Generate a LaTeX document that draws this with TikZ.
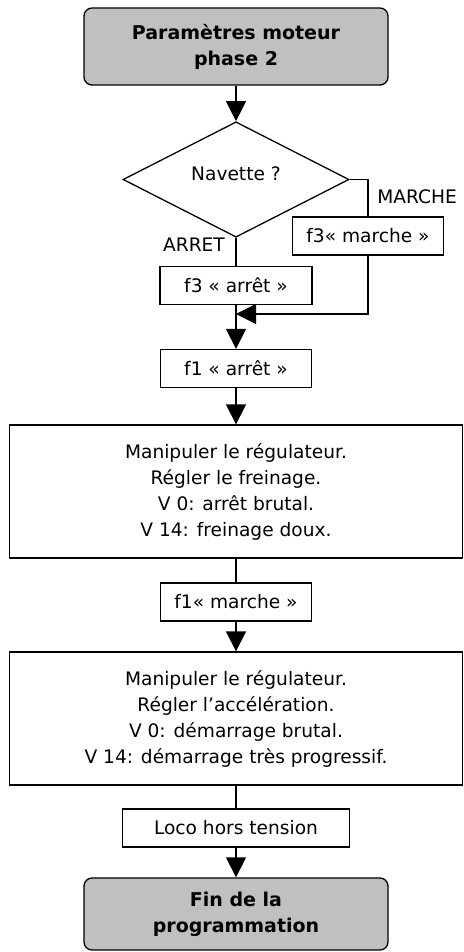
\documentclass[tikz,border=0pt]{standalone}
\usepackage{fontspec}
\setmainfont{DejaVu Sans}
\usepackage{tikz}
\usetikzlibrary{shapes.geometric,arrows.meta}
\definecolor{gris}{RGB}{192,192,192}

\begin{document}
\begin{tikzpicture}[x=1pt,y=-1pt,line width=1.3pt,
    every node/.style={font=\fontsize{18.6}{26}\selectfont,align=center,inner sep=0pt},
    boite/.style={draw,rectangle,minimum height=38pt},
    grande/.style={draw,rectangle,minimum width=453pt,minimum height=133pt},
    terminal/.style={draw,rectangle,rounded corners=8pt,fill=gris,minimum width=304pt,
      font=\bfseries\fontsize{19}{26}\selectfont},
    fleche/.style={-{Triangle[length=20pt,width=20pt]}}]
  \useasboundingbox (0,0) rectangle (463,952);
  % Debut et test navette
  \node[terminal,minimum height=77pt] (debut) at (236,46.5) {Paramètres moteur\\phase 2};
  \node[draw,diamond,minimum width=226pt,minimum height=113pt,text depth=12pt] (navette) at (236,179.5) {Navette ?};
  \node (marche) at (417,197) {MARCHE};
  \node (arret) at (194,245) {ARRET};
  % Branches f3
  \node[boite,minimum width=151pt] (f3marche) at (368,236) {f3« marche »};
  \node[boite,minimum width=152pt] (f3arret) at (236,285.5) {f3 « arrêt »};
  \coordinate (jonction) at (236,314);
  % Freinage
  \node[boite,minimum width=151pt] (f1arret) at (236,368.5) {f1 « arrêt »};
  \node[grande] (freinage) at (236,491.5) {Manipuler le régulateur.\\Régler le freinage.\\V 0: arrêt brutal.\\V 14: freinage doux.};
  % Acceleration
  \node[boite,minimum width=151pt] (f1marche) at (236,602) {f1« marche »};
  \node[grande] (acceleration) at (236,718.5) {Manipuler le régulateur.\\Régler l’accélération.\\V 0: démarrage brutal.\\V 14: démarrage très progressif.};
  % Fin
  \node[boite,minimum width=227pt] (loco) at (236,828) {Loco hors tension};
  \node[terminal,minimum height=72pt] (fin) at (236,914) {Fin de la\\programmation};
  % Liaisons
  \draw[fleche] (debut) -- (navette);
  \draw (navette.east) -| (f3marche.north);
  \draw (navette.south) -- (f3arret.north);
  \draw[fleche] (f3marche.south) |- (jonction);
  \draw[fleche] (f3arret.south) -- (f1arret.north);
  \draw[fleche] (f1arret) -- (freinage);
  \draw (freinage) -- (f1marche);
  \draw[fleche] (f1marche) -- (acceleration);
  \draw (acceleration) -- (loco);
  \draw[fleche] (loco) -- (fin);
\end{tikzpicture}
\end{document}
